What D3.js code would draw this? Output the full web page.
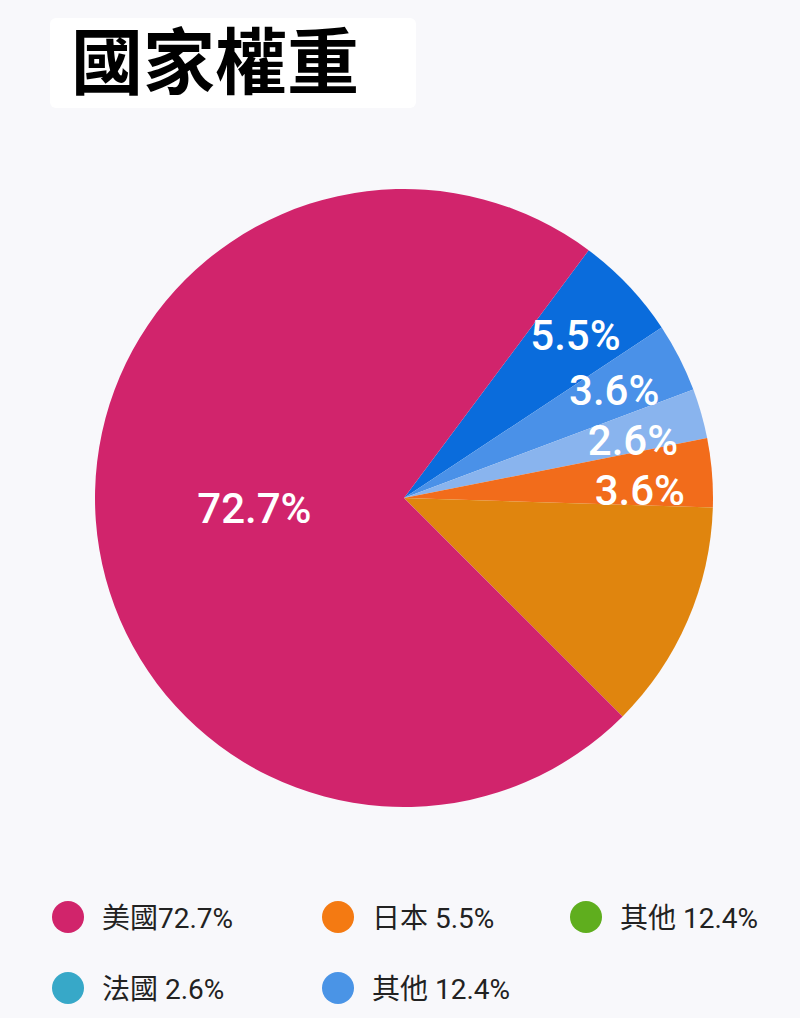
<!DOCTYPE html>
<html>
<head>
<meta charset="utf-8">
<script src="https://cdn.jsdelivr.net/npm/d3@7"></script>
<style>
  html, body { margin: 0; padding: 0; background: #f8f8fb; }
  svg { display: block; }
</style>
</head>
<body>
<script>
// Pie slices, clockwise
const sliceValues = [5.5, 3.6, 2.6, 3.6, 12.0, 72.7];
const sliceColors = ["#0a6cdc", "#4a91e8", "#89b4ee", "#f26c1b", "#e0850e", "#d1246c"];
const sliceShowLabel = [true, true, true, true, false, true];

// Legend entries
const legendLabels = ["美國72.7%", "日本 5.5%", "其他 12.4%", "法國 2.6%", "其他 12.4%"];
const legendColors = ["#d1246b", "#f47a12", "#5fae1e", "#37a8c8", "#4a94e6"];

const titleText = "國家權重";

const W = 800, H = 1018;
const cx = 404, cy = 498, R = 309;

const svg = d3.select("body").append("svg")
  .attr("width", W).attr("height", H);

svg.append("rect").attr("width", W).attr("height", H).attr("fill", "#f8f8fb");

// Title on a white panel
svg.append("rect")
  .attr("x", 50).attr("y", 18).attr("width", 366).attr("height", 90)
  .attr("rx", 6).attr("fill", "#ffffff");
svg.append("text")
  .attr("x", 71).attr("y", 88)
  .attr("font-family", "'Noto Sans CJK TC', 'Noto Sans CJK SC', sans-serif")
  .attr("font-weight", 700)
  .attr("font-size", 72)
  .attr("fill", "#000")
  .text(titleText);

// Pie
const start = 36.7 * Math.PI / 180;
const pie = d3.pie().sort(null).startAngle(start).endAngle(start + 2 * Math.PI);
const arcs = pie(sliceValues);
const arc = d3.arc().innerRadius(0).outerRadius(R);

const g = svg.append("g").attr("transform", `translate(${cx},${cy})`);
g.selectAll("path.slice")
  .data(arcs)
  .join("path")
  .attr("class", "slice")
  .attr("d", arc)
  .attr("fill", (d, i) => sliceColors[i]);

// Value labels: big slice near its centroid, thin slices along an arc,
// nudged apart vertically so they never collide
const fmt = d3.format(".1f");
const rSmall = 236, rBig = 150, minGap = 50;
const bigLabelArc = d3.arc().innerRadius(rBig).outerRadius(rBig);
const smallLabelArc = d3.arc().innerRadius(rSmall).outerRadius(rSmall);

const labelled = arcs.filter((d, i) => sliceShowLabel[i]).map(d => {
  const big = d.value > 50;
  const p = (big ? bigLabelArc : smallLabelArc).centroid(d);
  return { d, big, x: p[0], y: p[1] };
});
const smalls = labelled.filter(l => !l.big).sort((a, b) => a.y - b.y);
for (let k = 1; k < smalls.length; k++) {
  if (smalls[k].y - smalls[k - 1].y < minGap) smalls[k].y = smalls[k - 1].y + minGap;
}
smalls.forEach(l => {
  l.x = Math.sqrt(Math.max(0, rSmall * rSmall - l.y * l.y));
});

g.selectAll("text.val")
  .data(labelled)
  .join("text")
  .attr("class", "val")
  .attr("x", l => l.x)
  .attr("y", l => l.y)
  .attr("text-anchor", "middle")
  .attr("dominant-baseline", "central")
  .attr("font-family", "Roboto, 'Noto Sans', sans-serif")
  .attr("font-weight", 500)
  .attr("font-size", 42)
  .attr("fill", "#ffffff")
  .text(l => fmt(l.d.value) + "%");

// Legend
const colX = [68, 338, 586];
const rowY = [917, 988];
const leg = svg.append("g");
legendLabels.forEach((lab, i) => {
  const x = colX[i % 3], y = rowY[Math.floor(i / 3)];
  leg.append("circle").attr("cx", x).attr("cy", y).attr("r", 16).attr("fill", legendColors[i]);
  leg.append("text")
    .attr("x", x + 34).attr("y", y + 1)
    .attr("dominant-baseline", "central")
    .attr("font-family", "Roboto, 'Noto Sans CJK TC', sans-serif")
    .attr("font-size", 28)
    .attr("fill", "#222")
    .text(lab);
});
</script>
</body>
</html>
